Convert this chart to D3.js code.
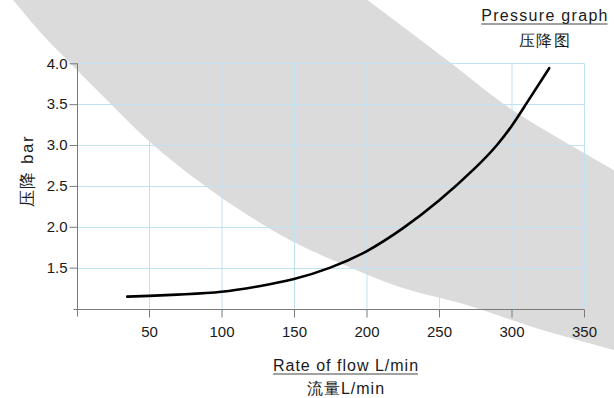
<!DOCTYPE html>
<html>
<head>
<meta charset="utf-8">
<script src="https://cdn.jsdelivr.net/npm/d3@7"></script>
<style>
  html, body { margin: 0; padding: 0; background: #fff; }
  svg { display: block; }
  text { font-family: "Liberation Sans", Arial, sans-serif; fill: #1a1a1a; }
</style>
</head>
<body>
<svg id="chart" width="614" height="398"></svg>
<script>
// ---- data ----
const flowValues     = [35, 50, 75, 100, 125, 150, 175, 200, 225, 250, 275, 290, 300, 310, 326];
const pressureValues = [1.145, 1.155, 1.175, 1.205, 1.27, 1.36, 1.50, 1.70, 1.98, 2.32, 2.72, 3.0, 3.23, 3.5, 3.94];
const xTicks = [50, 100, 150, 200, 250, 300, 350];
const yTicks = [1.5, 2.0, 2.5, 3.0, 3.5, 4.0];
const yTickLabels = ["1.5", "2.0", "2.5", "3.0", "3.5", "4.0"];
// decorative grey band, in data units (flow, bar)
const bandLowerFlow = [-56, -43.8, -25.1, -6.5, 21.0, 50.6, 90.6, 131.3, 154.0, 176.7, 222.9, 269.1, 314.5, 370.3, 382];
const bandLowerBar  = [5.02, 4.775, 4.383, 4.04, 3.551, 3.037, 2.474, 1.997, 1.777, 1.593, 1.263, 1.043, 0.774, 0.492, 0.43];
const bandUpperFlow = [382, 370.3, 300.7, 257.3, 200.8, 183];
const bandUpperBar  = [2.57, 2.695, 3.429, 4.016, 4.775, 5.02];
const titleText = "Pressure graph";
const titleSub = "压降图";
const xTitle = "Rate of flow L/min";
const xTitleSub = "流量L/min";
const yTitle = "压降 bar";

// ---- scales ----
const x = d3.scaleLinear().domain([0, 350]).range([76.5, 584]);
const y = d3.scaleLinear().domain([1, 4]).range([308.5, 63.3]);
const svg = d3.select("#chart");

// ---- grey band ----
const lowerPts = bandLowerFlow.map((f, i) => [x(f), y(bandLowerBar[i])]);
const upperPts = bandUpperFlow.map((f, i) => [x(f), y(bandUpperBar[i])]);
const bandPts = lowerPts.concat(upperPts);
svg.append("path")
  .attr("d", d3.line().curve(d3.curveCatmullRomClosed.alpha(0.5))(bandPts))
  .attr("fill", "#dbdbdb");

// ---- grid ----
const grid = svg.append("g").attr("stroke", "#bfe2f4").attr("stroke-width", 1);
grid.selectAll("line.v").data(xTicks).join("line")
  .attr("x1", d => x(d) + 0.5).attr("x2", d => x(d) + 0.5)
  .attr("y1", y(4)).attr("y2", y(1));
grid.selectAll("line.h").data(yTicks).join("line")
  .attr("x1", x(0)).attr("x2", x(350))
  .attr("y1", d => Math.round(y(d)) + 0.5).attr("y2", d => Math.round(y(d)) + 0.5);

// ---- axes ----
const axisColor = "#7a7a7a";
const xAxis = svg.append("g").attr("transform", `translate(0,${Math.round(y(1)) + 0.5})`)
  .call(d3.axisBottom(x).tickValues(xTicks).tickSize(8).tickSizeOuter(0).tickPadding(9));
xAxis.select(".domain").remove();
xAxis.append("line").attr("x1", x(0) - 3).attr("x2", x(350)).attr("stroke", axisColor);
xAxis.selectAll(".tick line").attr("stroke", axisColor);
xAxis.selectAll(".tick text").attr("font-size", 15).attr("fill", "#1a1a1a")
  .style("font-family", "'Liberation Sans', Arial, sans-serif");

const yAxis = svg.append("g").attr("transform", `translate(${Math.round(x(0)) + 0.5},0)`)
  .call(d3.axisLeft(y).tickValues(yTicks).tickFormat((d, i) => yTickLabels[i]).tickSize(8).tickSizeOuter(0).tickPadding(2));
yAxis.select(".domain").remove();
yAxis.append("line").attr("y1", y(4)).attr("y2", y(1) + 8).attr("stroke", axisColor);
yAxis.selectAll(".tick line").attr("stroke", axisColor);
yAxis.selectAll(".tick text").attr("font-size", 15).attr("fill", "#1a1a1a")
  .style("font-family", "'Liberation Sans', Arial, sans-serif");

// ---- curve ----
const curve = d3.line()
  .x((d, i) => x(flowValues[i]))
  .y((d, i) => y(pressureValues[i]))
  .curve(d3.curveNatural);
svg.append("path")
  .attr("d", curve(flowValues))
  .attr("fill", "none").attr("stroke", "#000").attr("stroke-width", 2.6)
  .attr("stroke-linecap", "round");

// ---- titles ----
function underlined(txt, cx, by, size, ls) {
  const t = svg.append("text").attr("x", cx).attr("y", by)
    .attr("text-anchor", "middle").attr("font-size", size)
    .style("letter-spacing", ls + "px").text(txt);
  const bb = t.node().getBBox();
  svg.append("line").attr("x1", bb.x).attr("x2", bb.x + bb.width - ls)
    .attr("y1", by + 3.5).attr("y2", by + 3.5).attr("stroke", "#444").attr("stroke-width", 1.2);
  return t;
}
underlined(titleText, 545, 20.5, 16, 1.3);
svg.append("text").attr("x", 545).attr("y", 46).attr("text-anchor", "middle")
  .attr("font-size", 16).style("letter-spacing", "1.5px").text(titleSub);

underlined(xTitle, 346, 370.5, 16, 1);
svg.append("text").attr("x", 346).attr("y", 393.5).attr("text-anchor", "middle")
  .attr("font-size", 16).style("letter-spacing", "1px").text(xTitleSub);

svg.append("text").attr("transform", "translate(33,171) rotate(-90)")
  .attr("text-anchor", "middle").attr("font-size", 17)
  .style("letter-spacing", "1.5px").text(yTitle);
</script>
</body>
</html>
